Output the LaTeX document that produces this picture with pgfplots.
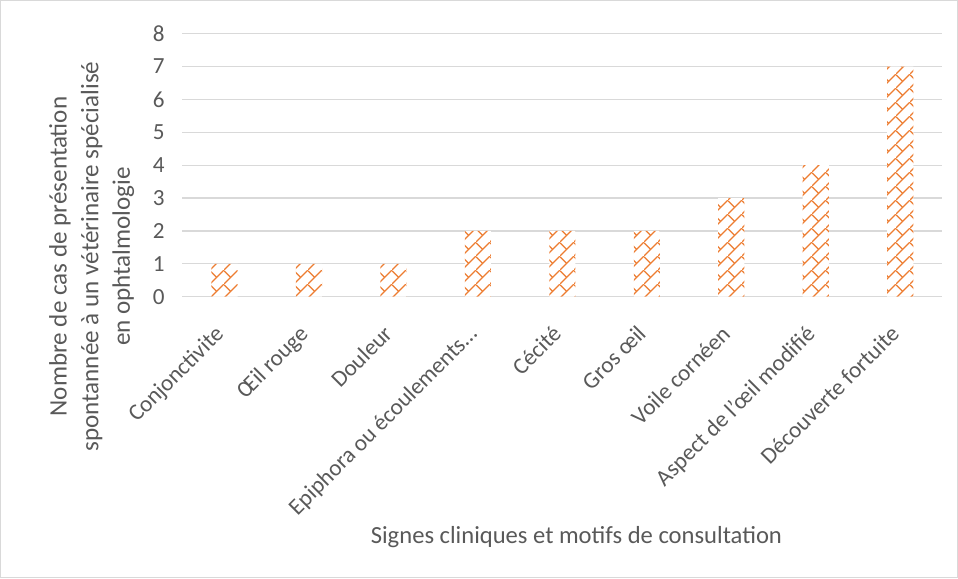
\documentclass[border=0pt]{standalone}
\usepackage{fontspec}
\setmainfont{Carlito}
\usepackage{pgfplots}
\pgfplotsset{compat=1.18}
\usetikzlibrary{patterns.meta}
\definecolor{txt}{HTML}{595959}
\definecolor{gridc}{HTML}{D9D9D9}
\definecolor{orng}{HTML}{ED7D31}
\tikzdeclarepattern{
  name=dbrick,
  type=uncolored,
  bounding box={(0,0) and (14bp,14bp)},
  tile size={(14bp,14bp)},
  code={
    \draw[line width=1.3bp] (-1bp,-1bp) -- (15bp,15bp);
    \draw[line width=1.3bp] (7bp,7bp) -- (0bp,14bp);
  }
}
\begin{document}
\begin{tikzpicture}
\begin{axis}[
  scale only axis,
  width=757bp, height=262bp,
  xmin=-0.5, xmax=8.5,
  ymin=0, ymax=8,
  ytick={0,1,2,3,4,5,6,7,8},
  xtick={0,1,2,3,4,5,6,7,8},
  xticklabels={Conjonctivite,{Œil rouge},Douleur,{Epiphora ou écoulements…},Cécité,{Gros œil},{Voile cornéen},{Aspect de l'œil modifié},{Découverte fortuite}},
  axis line style={draw=none},
  major tick style={draw=none},
  ymajorgrids,
  grid style={gridc, line width=1.2bp},
  /pgf/number format/assume math mode=true,
  tick label style={font=\fontsize{23bp}{27bp}\selectfont, text=txt},
  yticklabel style={xshift=-14bp},
  x tick label style={xshift=-11bp, yshift=-27bp, rotate=45, anchor=north east, inner sep=0pt},
  ylabel={Nombre de cas de présentation\\spontannée à un vétérinaire spécialisé\\en ophtalmologie},
  ylabel style={font=\fontsize{25bp}{31.5bp}\selectfont, text=txt, align=center, at={(axis description cs:-0.119,0.153)}, anchor=center},
  xlabel={Signes cliniques et motifs de consultation},
  xlabel style={font=\fontsize{24.5bp}{30bp}\selectfont, text=txt, at={(axis description cs:0.5,0)}, anchor=center, yshift=-239bp, xshift=14bp},
  clip=false,
]
\addplot[ybar, bar width=26bp, draw=none, fill=white, postaction={pattern=dbrick, pattern color=orng}]
  coordinates {(0,1) (1,1) (2,1) (3,2) (4,2) (5,2) (6,3) (7,4) (8,7)};
\end{axis}
\draw[gridc, line width=1bp] ([xshift=-181bp,yshift=-280bp]current axis.south west) rectangle ([xshift=15bp,yshift=33bp]current axis.north east);
\end{tikzpicture}
\end{document}
